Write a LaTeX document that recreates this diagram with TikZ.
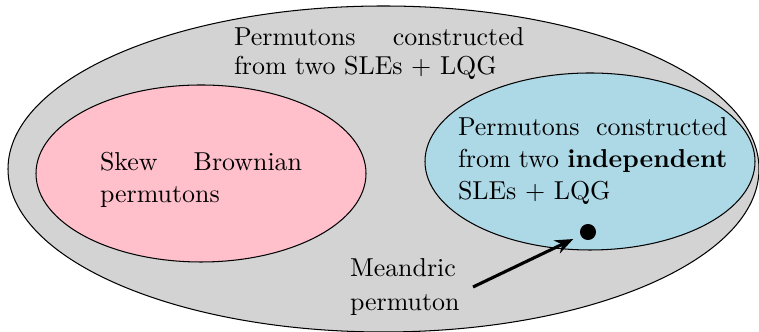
\documentclass[tikz,border=0pt]{standalone}
\usetikzlibrary{arrows.meta}
\definecolor{outergray}{RGB}{211,211,211}
\definecolor{pinkfill}{RGB}{255,192,203}
\definecolor{bluefill}{RGB}{173,216,230}
\begin{document}
\begin{tikzpicture}[x=0.386pt,y=-0.386pt,
  region/.style={draw=black, line width=0.4pt},
  lbl/.style={inner sep=0pt, outer sep=0pt, anchor=north west, align=justify},
  lblleft/.style={inner sep=0pt, outer sep=0pt, anchor=north west, align=left}]
\useasboundingbox (0,0) rectangle (759,332);
\clip (0,0) rectangle (759,332);
\path[region, fill=outergray] (383.5,169) ellipse [x radius=375.5, y radius=163];
\path[region, fill=pinkfill] (201,173.5) ellipse [x radius=165, y radius=88.5];
\path[region, fill=bluefill] (590,161.5) ellipse [x radius=165, y radius=88.5];
\node[lbl, text width=112pt, font={\fontsize{10}{11.3}\selectfont}] (outer) at (234,27.7)
  {Permutons constructed from two SLEs $+$ LQG};
\node[lbl, text width=104pt, font={\fontsize{10}{12.35}\selectfont}] (indep) at (458,118)
  {Permutons constructed from two \textbf{independent} SLEs $+$ LQG};
\node[lbl, text width=78pt, font={\fontsize{10}{12.35}\selectfont}] (skew) at (100,152)
  {Skew Brownian permutons};
\node[lblleft, font={\fontsize{10}{13.1}\selectfont}] (meandric) at (350,259)
  {Meandric\\permuton};
\node[circle, fill=black, inner sep=0pt, minimum size=6.2pt] (dot) at (588,232) {};
\coordinate (tail) at (473,287);
\draw[line width=1.2pt, -{Stealth[length=7pt,width=5.5pt]}, shorten >=3pt] (tail) -- (dot);
\end{tikzpicture}
\end{document}
